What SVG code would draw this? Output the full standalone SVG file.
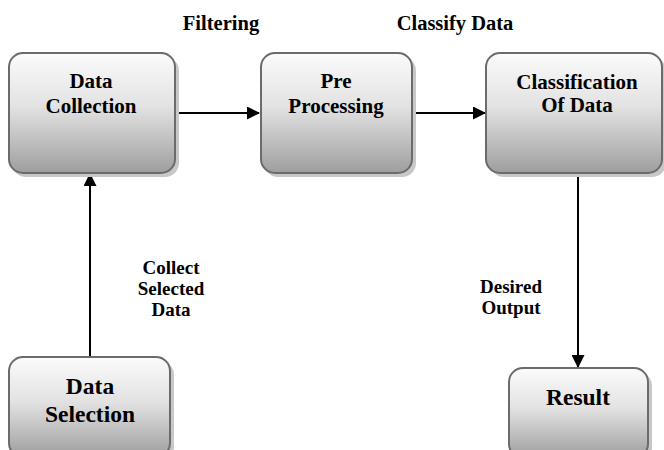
<svg xmlns="http://www.w3.org/2000/svg" width="664" height="450" viewBox="0 0 664 450">
<defs>
<linearGradient id="g" x1="0" y1="0" x2="0" y2="1">
<stop offset="0" stop-color="#fbfbfb"/>
<stop offset="0.45" stop-color="#e2e2e2"/>
<stop offset="1" stop-color="#9e9e9e"/>
</linearGradient>
<marker id="ah" markerWidth="13" markerHeight="13" refX="12" refY="6.5" orient="auto" markerUnits="userSpaceOnUse">
<path d="M0,0 L13,6.5 L0,13 Z" fill="#000"/>
</marker>
<style>
.box{fill:url(#g);stroke:#6b6b6b;stroke-width:2}
.sh{fill:#c8c8c8}
text{font-family:"Liberation Serif","Times New Roman",serif;font-weight:700;fill:#000;text-anchor:middle}
.n{font-size:21px}
.b{font-size:23.5px}
.l{font-size:19px}
.tl{font-size:20.5px}
.c{stroke:#000;stroke-width:2;fill:none;marker-end:url(#ah)}
</style>
</defs>
<g id="connectors">
<line class="c" x1="175" y1="113" x2="259" y2="113"/>
<line class="c" x1="412" y1="113" x2="485" y2="113"/>
<line class="c" x1="90" y1="357" x2="90" y2="174"/>
<line class="c" x1="578" y1="174" x2="578" y2="367"/>
</g>
<g id="labels">
<text class="tl" x="221" y="30">Filtering</text>
<text class="tl" x="455" y="30">Classify Data</text>
<text class="l" x="171" y="274">Collect</text>
<text class="l" x="171" y="295">Selected</text>
<text class="l" x="171" y="316">Data</text>
<text class="l" x="511" y="293">Desired</text>
<text class="l" x="511" y="314">Output</text>
</g>
<g id="data-collection">
<rect class="sh" x="12" y="57" width="167" height="120" rx="14"/>
<rect class="box" x="9" y="53" width="166" height="120" rx="14"/>
<text class="n" x="91" y="88">Data</text>
<text class="n" x="91" y="113">Collection</text>
</g>
<g id="pre-processing">
<rect class="sh" x="264" y="57" width="152" height="120" rx="14"/>
<rect class="box" x="261" y="53" width="151" height="120" rx="14"/>
<text class="n" x="336" y="88">Pre</text>
<text class="n" x="336" y="113">Processing</text>
</g>
<g id="classification">
<rect class="sh" x="490" y="57" width="176" height="120" rx="14"/>
<rect class="box" x="486" y="53" width="176" height="120" rx="14"/>
<text class="n" x="577" y="89">Classification</text>
<text class="n" x="577" y="112">Of Data</text>
</g>
<g id="data-selection">
<rect class="sh" x="12" y="361" width="162" height="100" rx="14"/>
<rect class="box" x="9" y="357" width="161" height="100" rx="14"/>
<text class="b" x="90" y="394">Data</text>
<text class="b" x="90" y="422">Selection</text>
</g>
<g id="result">
<rect class="sh" x="512" y="372" width="140" height="90" rx="14"/>
<rect class="box" x="509" y="368" width="139" height="90" rx="14"/>
<text class="b" x="578" y="405">Result</text>
</g>
</svg>
